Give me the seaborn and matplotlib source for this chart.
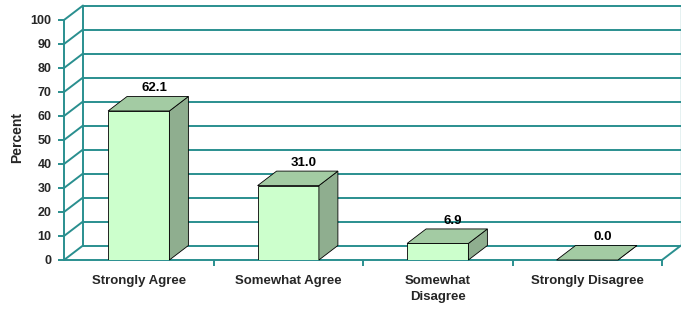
import numpy as np
import pandas as pd
import seaborn as sns
import matplotlib.pyplot as plt
from matplotlib.patches import Polygon

categories = ['Strongly Agree', 'Somewhat Agree', 'Somewhat\nDisagree', 'Strongly Disagree']
percent = [62.1, 31.0, 6.9, 0.0]
yticks = list(range(0, 101, 10))

sns.set_theme(style='white')
plt.rcParams['font.family'] = ['Liberation Sans', 'DejaVu Sans']
plt.rcParams['font.weight'] = 'bold'

teal = '#2a8f8f'
fig = plt.figure(figsize=(6.81, 3.11), dpi=100)
ax = fig.add_axes([64/681, 51/311, 598/681, 240/311])
df = pd.DataFrame({'answer': categories, 'percent': percent})
sns.barplot(data=df, x='answer', y='percent', color='#ccffcc', saturation=1,
            width=0.41, edgecolor='black', linewidth=0.6, ax=ax, zorder=3)
ax.set_xlim(-0.5, 3.5)
ax.set_ylim(0, 100)

# depth of the fake 3d box, pixels -> data units
dx = 19 / 598 * 4
dy = 14.5 / 240 * 100

# back wall + left wall grid
for t in yticks:
    ax.plot([-0.5 + dx, 3.5 + dx], [t + dy, t + dy], color=teal, lw=1.4, clip_on=False, zorder=1)
    ax.plot([-0.5, -0.5 + dx], [t, t + dy], color=teal, lw=1.4, clip_on=False, zorder=1)
ax.plot([-0.5 + dx, -0.5 + dx], [dy, 100 + dy], color=teal, lw=1.4, clip_on=False, zorder=1)
ax.plot([3.5 + dx, 3.5 + dx], [dy, 100 + dy], color=teal, lw=1.0, alpha=0.6, clip_on=False, zorder=1)
ax.plot([3.5, 3.5 + dx], [0, dy], color=teal, lw=1.4, clip_on=False, zorder=1)

# top and side faces of the bars
for p, v in zip(ax.patches, percent):
    x0, w, h = p.get_x(), p.get_width(), p.get_height()
    top = [(x0, h), (x0 + w, h), (x0 + w + dx, h + dy), (x0 + dx, h + dy)]
    side = [(x0 + w, 0), (x0 + w + dx, dy), (x0 + w + dx, h + dy), (x0 + w, h)]
    ax.add_patch(Polygon(side, closed=True, fc='#8fae8f', ec='black', lw=0.6, zorder=3, clip_on=False))
    ax.add_patch(Polygon(top, closed=True, fc='#a3cba3', ec='black', lw=0.6, zorder=3, clip_on=False))
    ax.text(x0 + w / 2 + dx * 0.8, h + dy + 1.0, f'{v:.1f}', ha='center', va='bottom',
            fontsize=9.5, fontweight='bold', color='black')

for s in ['top', 'right']:
    ax.spines[s].set_visible(False)
for s in ['left', 'bottom']:
    ax.spines[s].set_color(teal)
    ax.spines[s].set_linewidth(1.4)

ax.set_yticks(yticks)
ax.set_xticks(range(len(categories)))
ax.set_xticklabels(categories, fontsize=9.5, fontweight='bold', linespacing=1.4)
ax.set_xticks([0.5, 1.5, 2.5, 3.5], minor=True)
ax.tick_params(axis='x', which='major', length=0, pad=11)
ax.tick_params(axis='x', which='minor', length=4, width=1.4, color=teal, direction='out', bottom=True)
ax.tick_params(axis='y', length=4, width=1.4, color=teal, direction='out', left=True, pad=5, labelsize=9)
for lab in ax.get_yticklabels():
    lab.set_fontweight('bold')
ax.set_xlabel('')
ax.set_ylabel('Percent', fontsize=10, fontweight='bold')
ax.yaxis.set_label_coords(-0.066, 0.51)

fig.savefig('out.png', dpi=100)
